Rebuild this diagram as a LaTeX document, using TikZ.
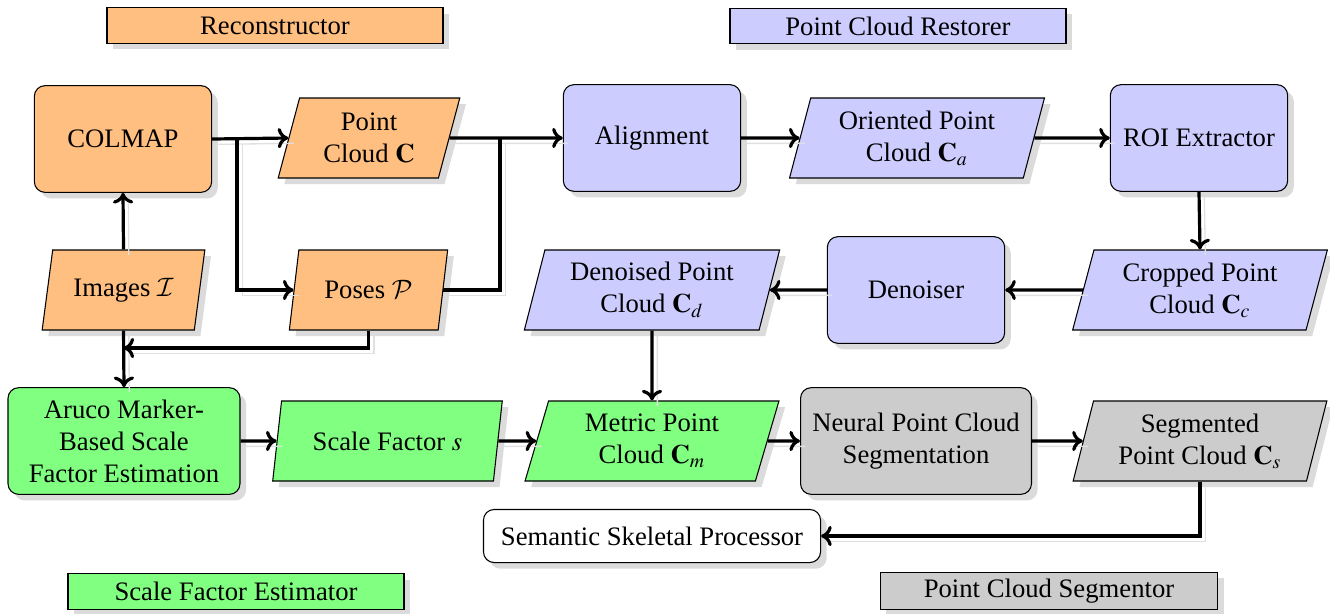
\documentclass[tikz,border=0pt]{standalone}
\usepackage{mathptmx}
\DeclareMathAlphabet{\mathcal}{OMS}{cmsy}{m}{n}
\usepackage[no-math]{fontspec}
\setmainfont{Liberation Serif}
\usetikzlibrary{shapes.geometric,shadows,arrows.meta}
\tikzset{
    proc/.style={rectangle, rounded corners=4pt, draw, fill=#1, align=center,
        minimum width=66.5pt, minimum height=40pt, inner sep=2pt, drop shadow={fill=black!14, opacity=1}},
    data/.style={trapezium, trapezium left angle=75, trapezium right angle=105,
        trapezium stretches=true, draw, fill=#1, align=center,
        minimum height=30pt, inner sep=1pt, drop shadow={fill=black!14, opacity=1}},
    legend/.style={rectangle, draw, fill=#1, minimum width=126pt,
        minimum height=13.3pt, inner sep=1pt, drop shadow={fill=black!14, opacity=1}},
    flow/.style={very thick, >={Computer Modern Rightarrow[length=4pt, width=7.6pt]},
        preaction={draw=black!12, line width=0.5pt, arrows=-,
        transform canvas={shift={(2pt,-2pt)}}}},
}
\begin{document}
\begin{tikzpicture}[x=0.375pt, y=-0.375pt]
    \useasboundingbox (0,0) rectangle (1330,613);
    \node[legend=orange!50] (recleg) at (275,25.5) {Reconstructor};
    \node[legend=blue!20] (resleg) at (898,26) {Point Cloud Restorer};
    \node[legend=green!50] (scaleleg) at (236,591.5) {Scale Factor Estimator};
    \node[legend=gray!40, minimum width=126.7pt, minimum height=14.2pt] (segleg) at (1049,591) {Point Cloud Segmentor};

    \node[proc=orange!50] (colmap) at (123,139) {COLMAP};
    \node[data=orange!50, minimum width=68.2pt] (pc) at (369,138) {Point\\Cloud $\mathbf{C}$};
    \node[proc=blue!20] (align) at (652,138) {Alignment};
    \node[data=blue!20, minimum width=96pt] (oriented) at (917,138) {Oriented Point\\Cloud $\mathbf{C}_a$};
    \node[proc=blue!20] (roi) at (1199,138) {ROI Extractor};

    \node[data=orange!50, minimum width=61pt] (images) at (123.5,290) {Images $\mathcal{I}$};
    \node[data=orange!50, minimum width=59.6pt] (poses) at (368.5,290) {Poses $\mathcal{P}$};
    \node[data=blue!20, minimum width=96pt] (denoised) at (652,290) {Denoised Point\\Cloud $\mathbf{C}_d$};
    \node[proc=blue!20] (denoiser) at (916,290) {Denoiser};
    \node[data=blue!20, minimum width=96pt] (cropped) at (1200,290) {Cropped Point\\Cloud $\mathbf{C}_c$};

    \node[proc=green!50, minimum width=87pt] (aruco) at (124,441) {Aruco Marker-\\Based Scale\\Factor Estimation};
    \node[data=green!50, minimum width=86.6pt] (scale) at (387.5,441) {Scale Factor $s$};
    \node[data=green!50, minimum width=95.8pt] (metric) at (652,441) {Metric Point\\Cloud $\mathbf{C}_m$};
    \node[proc=gray!40, minimum width=86.6pt] (neural) at (916,441) {Neural Point Cloud\\Segmentation};
    \node[data=gray!40, minimum width=95.8pt] (seg) at (1200,441) {Segmented\\Point Cloud $\mathbf{C}_s$};

    \node[proc=white, minimum width=126.4pt, minimum height=19.9pt] (sem) at (652,536) {Semantic Skeletal Processor};

    \coordinate (j1) at (237,139);
    \coordinate (j2) at (500,139);
    \coordinate (j3) at (123.5,348);

    \draw[flow, ->] (colmap.east) -- (pc.west);
    \draw[flow, ->] (j1) |- (poses.west);
    \draw[flow, ->] (pc.east) -- (align.west);
    \draw[flow] (poses.east) -| (j2);
    \draw[flow, ->] (images.north) -- (colmap.south);
    \draw[flow, ->] (images.south) -- (aruco.north);
    \draw[flow, ->] (poses.south) |- (j3);
    \draw[flow, ->] (align.east) -- (oriented.west);
    \draw[flow, ->] (oriented.east) -- (roi.west);
    \draw[flow, ->] (roi.south) -- (cropped.north);
    \draw[flow, ->] (cropped.west) -- (denoiser.east);
    \draw[flow, ->] (denoiser.west) -- (denoised.east);
    \draw[flow, ->] (denoised.south) -- (metric.north);
    \draw[flow, ->] (aruco.east) -- (scale.west);
    \draw[flow, ->] (scale.east) -- (metric.west);
    \draw[flow, ->] (metric.east) -- (neural.west);
    \draw[flow, ->] (neural.east) -- (seg.west);
    \draw[flow, ->] (seg.south) |- (sem.east);
\end{tikzpicture}
\end{document}
